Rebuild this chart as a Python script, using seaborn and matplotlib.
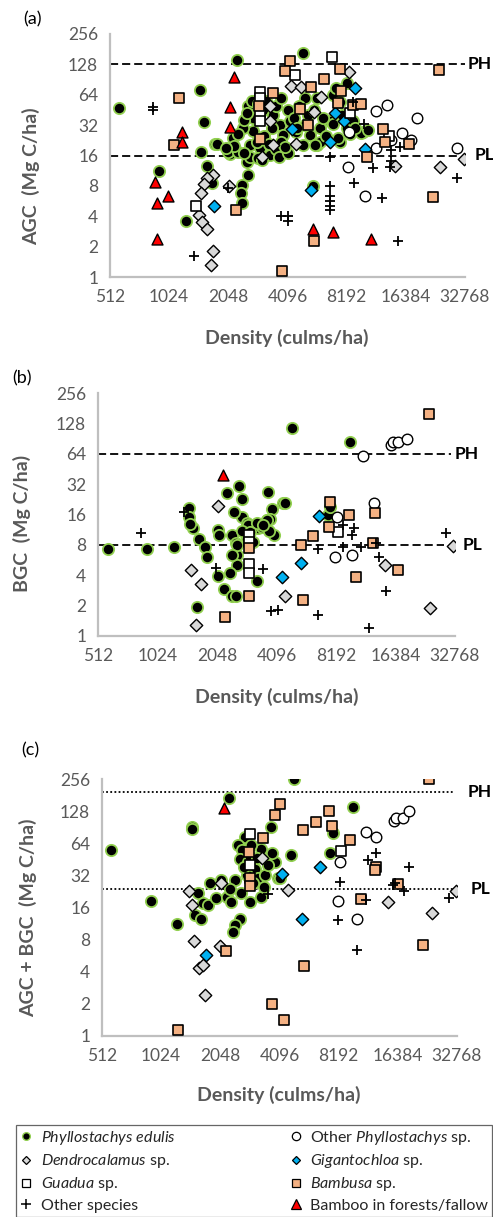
import matplotlib
matplotlib.use("Agg")
import matplotlib.pyplot as plt
from matplotlib.lines import Line2D
import seaborn as sns

# ---- data ----
# panel (a) AGC
edulis_a_x = [570, 2270, 4900, 1470, 1540, 1485, 910, 1240, 1600, 1650, 1700, 1750, 2580, 2390, 2370, 2390,
              1800, 2090, 2585, 2740, 3080, 3470, 3750, 2740, 2440, 2170, 2050, 2300, 2630, 2960, 3330, 2540,
              3900, 4550, 4930, 5330, 5760, 6000, 2300, 2450, 2550, 2700, 2900, 3200, 3600, 3800, 4100, 3400,
              3100, 2850, 2650, 2900, 3050, 3300, 3600, 3800, 4200, 4400, 2200, 2000, 2450, 3700, 4100,
              6980, 7570, 6740, 8190, 8850, 9960, 7570, 6000, 5500, 8190, 5010, 6990, 9720, 10500, 7430, 5650,
              3980, 5200, 5600, 6200, 5800, 4700, 7800, 8500, 9000, 6400, 5000, 4600, 7200]
edulis_a_y = [47, 140, 166, 72, 34, 17.5, 11.3, 3.6, 12.5, 9.2, 8.5, 21, 10.3, 8.2, 6.8, 5.4,
              20.9, 16.6, 49, 38, 45, 40, 32, 28, 30, 24, 17.5, 17.5, 20.3, 18.9, 16.2, 13.9,
              25.6, 27.6, 20.3, 25.6, 20.3, 30, 26, 36, 42, 55, 52, 55, 50, 60, 45, 30,
              25, 22, 15.5, 15, 14.5, 21, 18.5, 22, 35, 38, 20, 19, 17, 15.5, 17,
              64, 54.5, 34.8, 30, 34.8, 27.6, 22, 22, 8, 83, 59, 33, 26.6, 28.7, 23.8, 20.3,
              19.4, 40, 45, 38, 60, 50, 40, 26, 30, 25, 32, 30, 75]
ophyl_a_x = [13100, 11600, 18700, 8410, 11600, 8340, 10200, 15700, 17400, 29900, 13800]
ophyl_a_y = [51, 44, 37.6, 27.6, 18.9, 12.2, 6.4, 26.6, 23, 19.2, 23]
dendro_a_x = [1710, 1590, 1540, 1480, 1460, 1500, 1600, 1710, 1670, 2070, 3350, 3330, 3470, 3050, 4290,
              4820, 4550, 5560, 6050, 8430, 14400, 24500, 32200]
dendro_a_y = [10.2, 9.5, 8.4, 6.8, 4.1, 3.5, 3.0, 1.8, 1.33, 7.9, 49.6, 35, 20.3, 15.6, 78,
              77, 20.6, 43.6, 61, 107, 12.6, 12.4, 14.8]
giganto_a_x = [1730, 4340, 8990, 7140, 7960, 6740, 10100, 5420]
giganto_a_y = [5.0, 29, 74, 42, 35, 22, 18.6, 7.2]
guadua_a_x = [1410, 2960, 2960, 2960, 2960, 4460, 6860, 8470, 13500]
guadua_a_y = [5.1, 68, 60, 42, 35, 100, 152, 42, 25]
bambusa_a_x = [1150, 1084, 2240, 3820, 2940, 3470, 2960, 4200, 3970, 6290, 5420, 7570, 7640, 7420, 4740,
               5180, 8850, 9660, 12600, 12900, 17000, 10400, 22600, 24300, 5570]
bambusa_a_y = [60, 20.3, 4.6, 1.14, 49.6, 67, 23.3, 139, 111, 91, 76, 114, 70, 53, 46,
               32, 50.6, 52, 29, 22, 21, 15.6, 6.2, 113, 2.3]
other_a_x = [850, 850, 1370, 2040, 3810, 4120, 4100, 8850, 10000, 6740, 6740, 6740, 6740, 6740, 6740,
             8950, 11200, 13600, 13700, 15300, 13800, 12400, 14900, 29900]
other_a_y = [48.8, 45, 1.6, 7.6, 4.0, 4.0, 3.6, 54, 33, 15.3, 8.0, 6.3, 5.7, 5.1, 4.6,
             8.5, 12, 12.4, 14.2, 19.6, 18, 6.1, 2.3, 9.5]
forest_a_x = [2190, 2090, 2090, 1190, 1190, 870, 1010, 890, 890, 5490, 6990, 10900]
forest_a_y = [97, 48.8, 30.5, 27.2, 22, 8.7, 6.4, 5.4, 2.4, 3.0, 2.8, 2.4]

# panel (b) BGC
edulis_b_x = [573, 909, 1240, 1480, 1480, 1540, 1660, 1780, 1820, 1630, 2290, 2660, 2730, 3700, 4430,
              3870, 3650, 3990, 2070, 2450, 2730, 2500, 2900, 2570, 2600, 2600, 2380, 2080, 2230, 2430,
              2560, 3250, 3300, 3440, 3790, 3740, 3120, 2900, 2950, 3250, 3660, 2600, 2450, 1500, 4880,
              9640, 4520, 7470, 7630, 2100, 2750, 3000, 3500]
edulis_b_y = [7.25, 7.25, 7.7, 18.5, 15.2, 11.7, 9.1, 7.7, 6.0, 1.93, 26, 30.7, 22.8, 26.5, 21,
              18, 14.2, 10.1, 11.3, 10.1, 15.2, 17.1, 13.1, 8.3, 6.4, 5.1, 4.2, 3.9, 2.9, 2.5,
              2.5, 3.5, 11.7, 12, 14.3, 11.1, 8.5, 9.2, 12.6, 13.1, 14.2, 8.0, 6.3, 13, 114,
              84, 21, 16, 19, 10, 11, 10.8, 12.5]
ophyl_b_x = [11200, 15500, 16000, 16900, 18700, 12700, 8300, 8130, 9900]
ophyl_b_y = [61, 78, 84, 84, 89, 20.6, 15, 6.1, 6.4]
dendro_b_x = [2080, 1510, 1700, 1600, 4520, 14500, 24400, 32100]
dendro_b_y = [19.6, 4.5, 3.3, 1.3, 2.5, 5.1, 1.9, 7.8]
giganto_b_x = [6740, 5430, 4380]
giganto_b_y = [15.5, 5.3, 3.8]
guadua_b_x = [2960, 2960, 2960, 2960, 8390]
guadua_b_y = [10.1, 8.6, 5.2, 4.2, 10.8]
bambusa_b_x = [24200, 7630, 9490, 7540, 12900, 6290, 5440, 12600, 16900, 10400, 5600, 2960, 2960, 2240]
bambusa_b_y = [158, 21.4, 15.8, 12.1, 16.7, 9.9, 8.0, 8.3, 4.5, 3.8, 2.3, 7.4, 2.5, 1.56]
other_b_x = [849, 1400, 2020, 3500, 3850, 4150, 6650, 8920, 11000, 8860, 10100, 9900, 13000, 13500,
             14600, 6650, 12000, 29500]
other_b_y = [10.5, 17, 4.7, 4.6, 1.75, 1.8, 7.2, 7.7, 7.7, 12.6, 11.7, 10.1, 8.3, 6.1,
             2.8, 1.6, 1.2, 10.5]
forest_b_x = [2190]
forest_b_y = [39]

# panel (c) AGC + BGC
edulis_c_x = [570, 2270, 1470, 1470, 906, 1230, 1530, 1640, 1580, 1670, 1770, 1810, 1950, 2060, 2220,
              2330, 2570, 2420, 2370, 2890, 3280, 4020, 3720, 3870, 3770, 2720, 2520, 2650, 2570, 2830,
              3060, 2800, 3190, 2420, 3440, 3570, 2890, 3300, 4850, 9680, 7650, 7440, 4660, 4100,
              2700, 3000, 2300, 2600, 3400, 2950, 3150]
edulis_c_y = [55, 171, 91, 87, 18.5, 11.1, 13.6, 12.5, 22, 17.5, 16.8, 27, 19.5, 29, 20,
              17.9, 12.6, 11.0, 9.5, 18.1, 20, 30, 91, 43, 52, 74, 61, 55, 46, 43,
              37, 32, 30, 29, 32, 40, 48, 57, 256, 141, 79, 52, 50, 30,
              38, 27, 24, 22, 25, 62, 47]
ophyl_c_x = [11300, 12700, 15600, 16000, 17500, 18700, 8320, 8150, 10200]
ophyl_c_y = [81, 73, 104, 111, 110, 128, 43, 18.4, 12.6]
dendro_c_x = [1420, 1470, 1500, 1600, 1680, 1720, 2070, 2050, 3350, 4540, 14600, 24500, 32200]
dendro_c_y = [23, 16.8, 7.7, 4.3, 4.6, 2.4, 27, 6.9, 47, 23.3, 18.1, 14.3, 23]
giganto_c_x = [1730, 4220, 6610, 5330]
giganto_c_y = [5.7, 33, 38, 12.4]
guadua_c_x = [2900, 2890, 8400]
guadua_c_y = [78, 40, 54]
bambusa_c_x = [4130, 3890, 3390, 2850, 2900, 2900, 2190, 1240, 3740, 4330, 7310, 6250, 5410, 7580,
               9410, 12700, 12500, 16500, 10600, 22000, 23700, 5440]
bambusa_c_y = [150, 117, 71, 53, 30.5, 25.6, 6.2, 1.14, 2.0, 1.4, 128, 102, 85, 93,
               68, 38, 36, 26.4, 19.2, 7.2, 256, 4.5]
other_c_x = [12700, 11600, 18700, 8320, 15500, 15800, 17600, 11300, 8100, 10200, 29800, 3580]
other_c_y = [52, 45, 38, 28, 26, 27.4, 23, 18.8, 12.2, 6.4, 19.5, 21.2]
forest_c_x = [2130]
forest_c_y = [136]

x_ticks = [512, 1024, 2048, 4096, 8192, 16384, 32768]
y_ticks = [1, 2, 4, 8, 16, 32, 64, 128, 256]
ph_pl = {"a": (128, 16), "b": (64, 8), "c": (192, 24)}

# ---- style ----
sns.set_style("white")
plt.rcParams["font.family"] = ["Lato", "DejaVu Sans"]
plt.rcParams["mathtext.fontset"] = "custom"
plt.rcParams["mathtext.rm"] = "Lato"
plt.rcParams["mathtext.it"] = "Lato:italic"

GREY_AX = "#BFBFBF"
GREY_TXT = "#595959"
GREEN = "#92D050"
BLUE = "#00B0F0"
SALMON = "#F4B183"
LGREY = "#D9D9D9"
RED = "#FF0000"

fig = plt.figure(figsize=(4.93, 12.17), dpi=100)
W, H = 493.0, 1217.0


def make_ax(left, right, top, bottom):
    return fig.add_axes([left / W, 1 - bottom / H, (right - left) / W, (bottom - top) / H])


def draw_panel(ax, d, lines, dash, ph_x, pl_x, ph_end, pl_end):
    (ex, ey, ox, oy, dx, dy, gx, gy, ux, uy, bx, by, px, py, fx, fy) = d
    sns.scatterplot(x=ex, y=ey, ax=ax, marker="o", color="black", edgecolor=GREEN,
                    linewidth=1.3, s=66, zorder=2, legend=False)
    sns.scatterplot(x=ox, y=oy, ax=ax, marker="o", color="white", edgecolor="black",
                    linewidth=1.0, s=58, zorder=3, legend=False)
    sns.scatterplot(x=dx, y=dy, ax=ax, marker="D", color=LGREY, edgecolor="black",
                    linewidth=1.0, s=40, zorder=4, legend=False)
    sns.scatterplot(x=gx, y=gy, ax=ax, marker="D", color=BLUE, edgecolor="black",
                    linewidth=1.0, s=40, zorder=5, legend=False)
    sns.scatterplot(x=ux, y=uy, ax=ax, marker="s", color="white", edgecolor="black",
                    linewidth=1.2, s=58, zorder=6, legend=False)
    sns.scatterplot(x=bx, y=by, ax=ax, marker="s", color=SALMON, edgecolor="black",
                    linewidth=1.2, s=58, zorder=7, legend=False)
    sns.scatterplot(x=px, y=py, ax=ax, marker="+", color="black",
                    linewidth=1.3, s=60, zorder=8, legend=False)
    sns.scatterplot(x=fx, y=fy, ax=ax, marker="^", color=RED, edgecolor="black",
                    linewidth=1.0, s=62, zorder=9, legend=False)

    ph, pl = lines
    ax.axhline(ph, xmin=0, xmax=ph_end, color="black", lw=1.3, linestyle=dash, zorder=1.5)
    ax.axhline(pl, xmin=0, xmax=pl_end, color="black", lw=1.3, linestyle=dash, zorder=1.5)
    tr = ax.get_yaxis_transform()
    ax.text(ph_x, ph, "PH", transform=tr, ha="left", va="center", fontsize=12.5,
            fontweight="bold", color="black", clip_on=False)
    ax.text(pl_x, pl, "PL", transform=tr, ha="left", va="center", fontsize=12.5,
            fontweight="bold", color="black", clip_on=False)

    ax.set_xscale("log", base=2)
    ax.set_yscale("log", base=2)
    ax.set_xlim(512, 32768)
    ax.set_ylim(1, 256)
    ax.set_xticks(x_ticks)
    ax.set_xticklabels([str(t) for t in x_ticks])
    ax.set_yticks(y_ticks)
    ax.set_yticklabels([str(t) for t in y_ticks])
    ax.minorticks_off()
    ax.set_xlabel("")
    ax.set_ylabel("")
    for side in ["top", "right"]:
        ax.spines[side].set_visible(False)
    for side in ["left", "bottom"]:
        ax.spines[side].set_color(GREY_AX)
        ax.spines[side].set_linewidth(1.6)
    ax.tick_params(direction="inout", length=9, width=1.3, color=GREY_AX,
                   labelcolor=GREY_TXT, labelsize=12.5, pad=4)
    ax.set_facecolor("none")
    ax.grid(False)


dashed = (0, (4.5, 2.2))
dotted = (0, (1, 1.3))

ax_a = make_ax(110, 465, 34, 277)
draw_panel(ax_a, (edulis_a_x, edulis_a_y, ophyl_a_x, ophyl_a_y, dendro_a_x, dendro_a_y,
                  giganto_a_x, giganto_a_y, guadua_a_x, guadua_a_y, bambusa_a_x, bambusa_a_y,
                  other_a_x, other_a_y, forest_a_x, forest_a_y),
           ph_pl["a"], dashed, 1.006, 1.028, 1.0, 0.985)

ax_b = make_ax(98, 455, 393, 636)
draw_panel(ax_b, (edulis_b_x, edulis_b_y, ophyl_b_x, ophyl_b_y, dendro_b_x, dendro_b_y,
                  giganto_b_x, giganto_b_y, guadua_b_x, guadua_b_y, bambusa_b_x, bambusa_b_y,
                  other_b_x, other_b_y, forest_b_x, forest_b_y),
           ph_pl["b"], dashed, 1.0, 1.022, 0.99, 0.97)

ax_c = make_ax(102, 457, 779, 1036)
draw_panel(ax_c, (edulis_c_x, edulis_c_y, ophyl_c_x, ophyl_c_y, dendro_c_x, dendro_c_y,
                  giganto_c_x, giganto_c_y, guadua_c_x, guadua_c_y, bambusa_c_x, bambusa_c_y,
                  other_c_x, other_c_y, forest_c_x, forest_c_y),
           ph_pl["c"], dotted, 1.031, 1.039, 0.99, 0.99)

# panel letters, axis titles
for lab, (px, py) in {"(a)": (23, 19), "(b)": (12, 378), "(c)": (21, 750)}.items():
    fig.text(px / W, 1 - py / H, lab, fontsize=13, color="black", ha="left", va="center")

lab_kw = dict(fontsize=14, fontweight="bold", color=GREY_TXT, ha="center", va="center")
fig.text(287 / W, 1 - 338 / H, "Density (culms/ha)", **lab_kw)
fig.text(277 / W, 1 - 697 / H, "Density (culms/ha)", **lab_kw)
fig.text(279 / W, 1 - 1095 / H, "Density (culms/ha)", **lab_kw)
fig.text(31 / W, 1 - 176 / H, "AGC  (Mg C/ha)", rotation=90, **lab_kw)
fig.text(22 / W, 1 - 523 / H, "BGC  (Mg C/ha)", rotation=90, **lab_kw)
fig.text(28 / W, 1 - 918 / H, "AGC + BGC  (Mg C/ha)", rotation=90, **lab_kw)

# legend
handles = [
    Line2D([], [], ls="", marker="o", mfc="black", mec=GREEN, ms=5.5, mew=1.0),
    Line2D([], [], ls="", marker="D", mfc=LGREY, mec="black", ms=4.5, mew=0.9),
    Line2D([], [], ls="", marker="s", mfc="white", mec="black", ms=5.5, mew=0.9),
    Line2D([], [], ls="", marker="+", color="black", ms=7, mew=1.1),
    Line2D([], [], ls="", marker="o", mfc="white", mec="black", ms=6, mew=0.9),
    Line2D([], [], ls="", marker="D", mfc=BLUE, mec="black", ms=4.5, mew=0.9),
    Line2D([], [], ls="", marker="s", mfc=SALMON, mec="black", ms=6, mew=0.9),
    Line2D([], [], ls="", marker="^", mfc=RED, mec="black", ms=6.5, mew=0.9),
]
labels = [
    r"$\mathit{Phyllostachys\ edulis}$",
    r"$\mathit{Dendrocalamus}$ sp.",
    r"$\mathit{Guadua}$ sp.",
    "Other species",
    r"Other $\mathit{Phyllostachys}$ sp.",
    r"$\mathit{Gigantochloa}$ sp.",
    r"$\mathit{Bambusa}$ sp.",
    "Bamboo in forests/fallow",
]
leg = fig.legend(handles, labels, ncol=2, loc="upper left", mode="expand",
                 bbox_to_anchor=(16 / W, 0, 476 / W, 1 - 1125 / H), borderaxespad=0,
                 fontsize=11.5, frameon=True, fancybox=False, handlelength=0.8,
                 handletextpad=0.5, labelspacing=0.32, borderpad=0.25, columnspacing=1.0)
leg.get_frame().set_edgecolor("#404040")
leg.get_frame().set_linewidth(0.9)

fig.savefig("out.png", dpi=100)
